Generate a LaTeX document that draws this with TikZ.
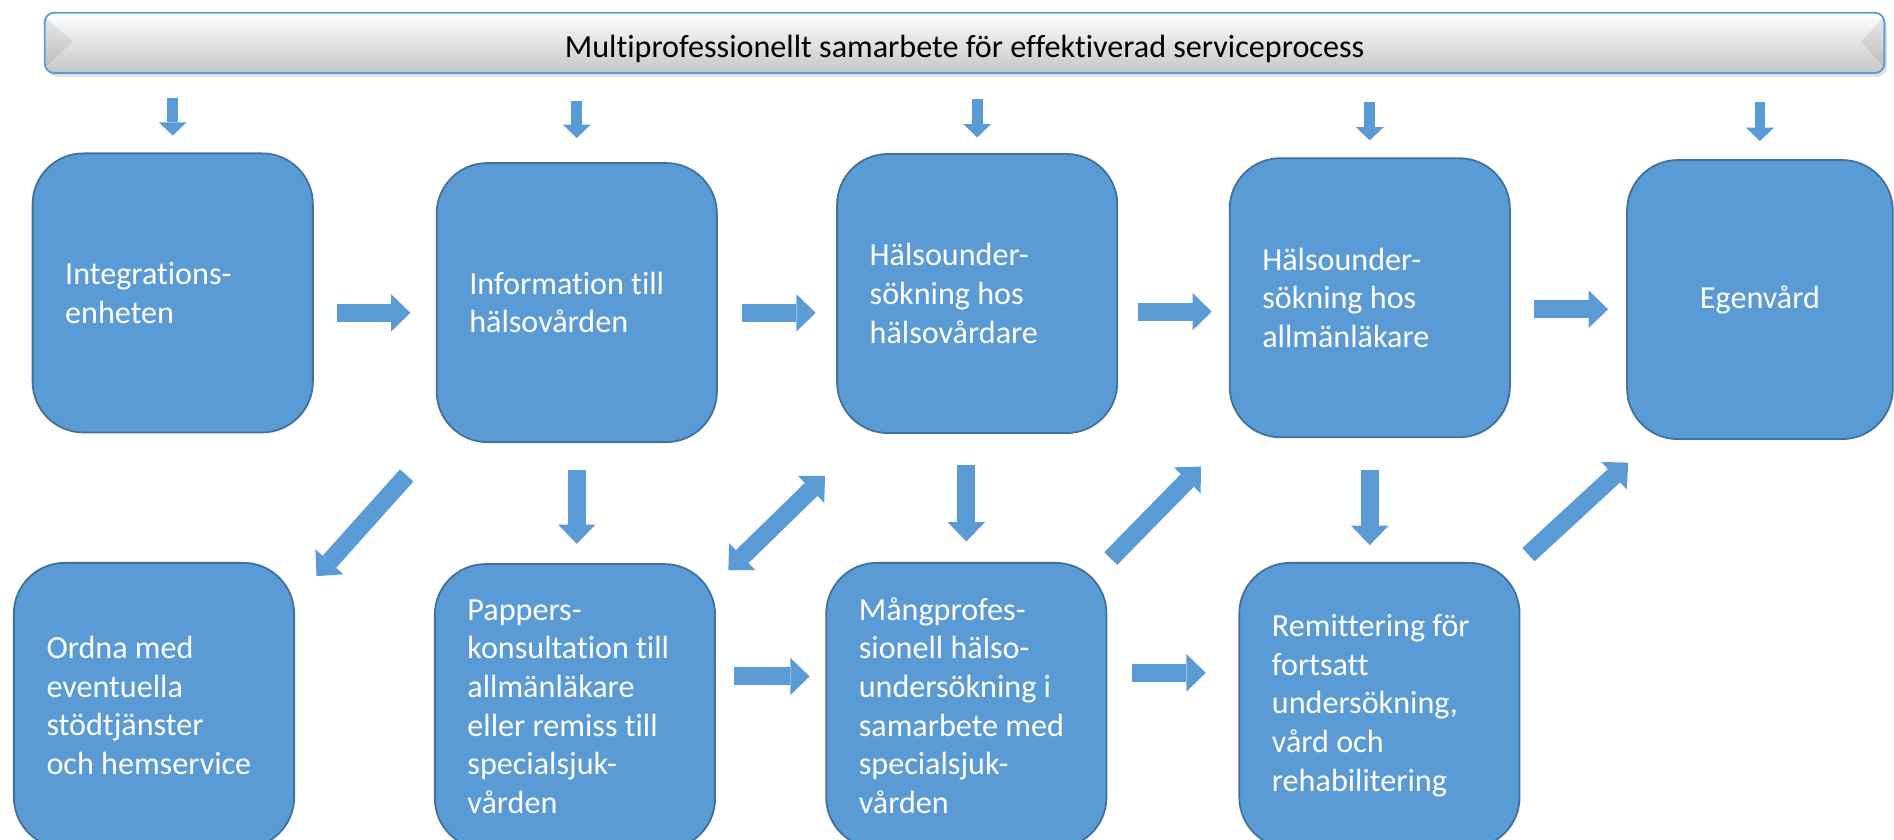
\documentclass[tikz,border=0pt]{standalone}
\usepackage{fontspec}
\setmainfont{Carlito}[Ligatures={NoCommon,NoContextual}]
\usetikzlibrary{arrows.meta,shadows}

\definecolor{boxblue}{RGB}{91,155,213}
\definecolor{boxedge}{RGB}{65,113,156}
\definecolor{bannergray}{RGB}{192,192,192}

\begin{document}
\begin{tikzpicture}[x=1pt, y=-1pt,
    stepbox/.style={draw=boxedge, line width=1.5pt, fill=boxblue, rounded corners=42pt,
        text=white, font=\fontsize{26.6}{32}\selectfont, align=flush left,
        text width=178pt, inner xsep=27pt, inner ysep=0pt, minimum height=231pt},
    banner/.style={draw=boxblue, line width=1.5pt, rounded corners=8pt,
        top color=white, middle color=bannergray, bottom color=bannergray!92,
        drop shadow={shadow xshift=2pt, shadow yshift=-3pt, opacity=0.25},
        font=\fontsize{26.6}{32}\selectfont, text height=24pt, text depth=0pt,
        minimum width=1523pt, minimum height=50pt},
    smallarrow/.style={draw=boxblue, line width=9pt, -{Triangle[width=23pt, length=11pt, line width=0pt]}},
    bigarrow/.style={draw=boxblue, line width=15pt, -{Triangle[width=31pt, length=16pt, line width=0pt]}}
  ]
    \useasboundingbox (0,0) rectangle (1568,695);

    % Banner on top
    \node[banner] (banner) at (798.5,35.5) {Multiprofessionellt samarbete för effektiverad serviceprocess};
    % bevelled ends of the banner
    \fill[black, opacity=0.07] ([shift={(2,5)}]banner.north west) -- ([shift={(24,25)}]banner.north west) -- ([shift={(2,45)}]banner.north west) -- cycle;
    \fill[black, opacity=0.07] ([shift={(-2,5)}]banner.north east) -- ([shift={(-20,25)}]banner.north east) -- ([shift={(-2,45)}]banner.north east) -- cycle;

    % Upper row of boxes
    \node[stepbox] (integ) at (143,242.5) {Integrations-\\enheten};
    \node[stepbox] (info) at (477.5,250.5) {Information till\\hälsovården};
    \node[stepbox] (hvard) at (809,243) {Hälsounder-\\sökning hos\\hälsovårdare};
    \node[stepbox] (allm) at (1134,246.5) {Hälsounder-\\sökning hos\\allmänläkare};
    \node[stepbox, text width=166pt, align=center] (egen) at (1457,248) {Egenvård};

    % Lower row of boxes (cut by the lower edge)
    \node[stepbox, minimum height=236pt] (ordna) at (127.5,584) {Ordna med\\eventuella\\stödtjänster\\och hemservice};
    \node[stepbox, minimum height=236pt] (papp) at (476,585) {Pappers-\\konsultation till\\allmänläkare\\eller remiss till\\specialsjuk-\\vården};
    \node[stepbox, minimum height=236pt] (mang) at (800,584) {Mångprofes-\\sionell hälso-\\undersökning i\\samarbete med\\specialsjuk-\\vården};
    \node[stepbox, minimum height=236pt] (remiss) at (1142,584) {Remittering för\\fortsatt\\undersökning,\\vård och\\rehabilitering};

    % Small arrows from the banner
    \draw[smallarrow, shorten <=20pt, shorten >=14pt] (banner.south -| integ.north) -- (integ.north);
    \draw[smallarrow, shorten <=22pt, shorten >=20pt] (banner.south -| info.north) -- (info.north);
    \draw[smallarrow, shorten <=21pt, shorten >=13pt] (banner.south -| hvard.north) -- (hvard.north);
    \draw[smallarrow, shorten <=23pt, shorten >=14pt] (banner.south -| allm.north) -- (allm.north);
    \draw[smallarrow, shorten <=23pt, shorten >=15pt] (banner.south -| egen.north) -- (egen.north);

    % Arrows along the upper row
    \draw[bigarrow, shorten <=19pt, shorten >=21pt] (integ.east |- 0,259) -- (info.west |- 0,259);
    \draw[bigarrow, shorten <=20pt, shorten >=17pt] (info.east |- 0,259) -- (hvard.west |- 0,259);
    \draw[bigarrow, shorten <=16pt, shorten >=14pt] (hvard.east |- 0,258) -- (allm.west |- 0,258);
    \draw[bigarrow, shorten <=19pt, shorten >=15pt] (allm.east |- 0,256) -- (egen.west |- 0,256);

    % Arrows along the lower row
    \draw[bigarrow, shorten <=15pt, shorten >=13pt] (papp.east |- 0,560) -- (mang.west |- 0,560);
    \draw[bigarrow, shorten <=20pt, shorten >=27pt] (mang.east |- 0,557) -- (remiss.west |- 0,557);

    % Down arrows between the rows
    \draw[bigarrow, shorten <=22pt, shorten >=16pt] (info.south) -- (info.south |- papp.north);
    \draw[bigarrow, shorten <=26pt, shorten >=17pt] (mang.north |- hvard.south) -- (mang.north);
    \draw[bigarrow, shorten <=26pt, shorten >=14pt] (allm.south) -- (allm.south |- remiss.north);

    % Diagonal arrows
    \coordinate (ordnaIn) at (262,477);
    \coordinate (pappEnd) at (603,472);
    \coordinate (hvardEnd) at (683,394);
    \coordinate (egenIn) at (1348,383);
    \draw[bigarrow, shorten <=36pt] (info.south west) -- (ordnaIn);
    \draw[bigarrow, {Triangle[width=31pt, length=16pt, line width=0pt]}-{Triangle[width=31pt, length=16pt, line width=0pt]}] (pappEnd) -- (hvardEnd);
    \draw[bigarrow, shorten <=4pt, shorten >=33pt] (mang.north east) -- (allm.south west);
    \draw[bigarrow, shorten <=9pt] (remiss.north east) -- (egenIn);
\end{tikzpicture}
\end{document}
